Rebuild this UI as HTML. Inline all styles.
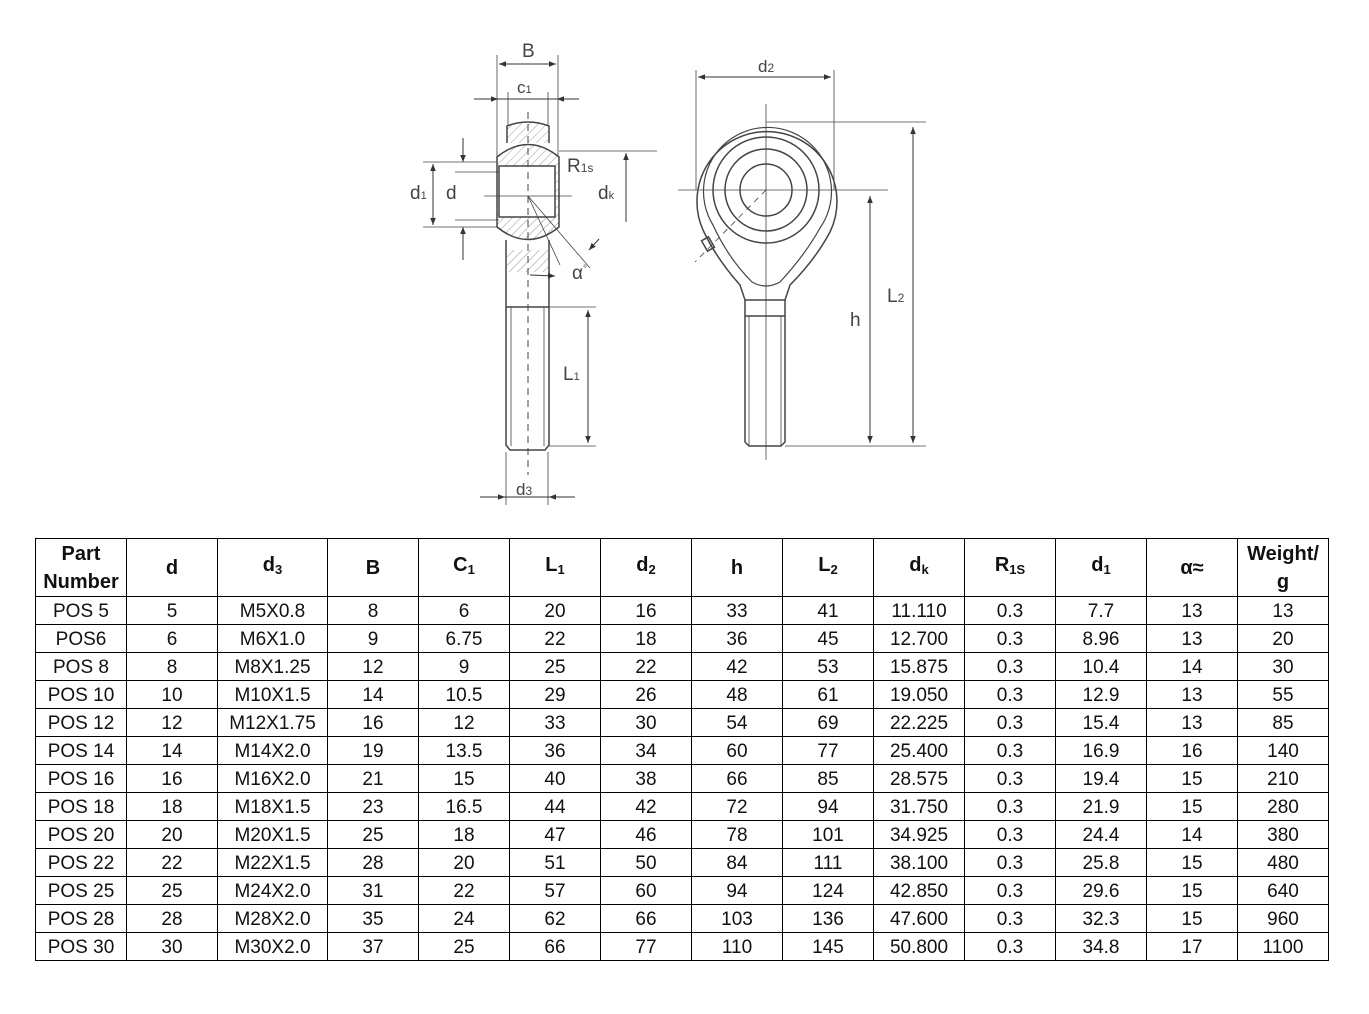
<!DOCTYPE html>
<html><head><meta charset="utf-8"><style>
body{margin:0;background:#fff;width:1369px;height:1014px;position:relative;overflow:hidden;font-family:"Liberation Sans","Noto Sans CJK SC",sans-serif}
svg{position:absolute;left:0;top:0}
table{position:absolute;left:35px;top:538px;border-collapse:collapse;table-layout:fixed}
td{border:1px solid #000;text-align:center;font-size:19px;height:25px;padding:2px 0 0 0;line-height:20px;color:#111}
tr.h td{font-weight:bold;height:57px;line-height:28px;font-size:20px;padding:0}
sub{font-size:13px;vertical-align:-3px}
</style></head><body>
<svg width="1369" height="530" viewBox="0 0 1369 530" font-family="Liberation Sans, sans-serif" fill="none" stroke="#444" stroke-width="1.5">
<defs>
<pattern id="ht" width="6" height="6" patternUnits="userSpaceOnUse" patternTransform="rotate(45)"><line x1="0" y1="0" x2="0" y2="6" stroke="#999" stroke-width="1"/></pattern>
<marker id="a" viewBox="0 0 10 10" refX="10" refY="5" markerWidth="7" markerHeight="7" orient="auto-start-reverse"><path d="M0,1 L10,5 L0,9z" fill="#333" stroke="none"/></marker>
</defs>
<path d="M507,143 L507,126 Q528,118 549,126 L549,143" fill="url(#ht)"/>
<path d="M497,157 Q528,132 559,157 L559,227 Q528,252 497,227 Z" fill="url(#ht)"/>
<rect x="499" y="166" width="56" height="51" fill="#fff"/>
<path d="M506,240 L506,445 L510,450 L545,450 L549,445 L549,240"/>
<rect x="507" y="250" width="41" height="22" fill="url(#ht)" stroke="none"/>
<line x1="506" y1="307" x2="549" y2="307"/>
<line x1="511" y1="307" x2="511" y2="446" stroke-width="0.8"/>
<line x1="544" y1="307" x2="544" y2="446" stroke-width="0.8"/>
<line x1="528" y1="112" x2="528" y2="475" stroke-dasharray="7,5" stroke-width="1"/>
<line x1="484" y1="196" x2="572" y2="196" stroke-width="0.8"/>
<line x1="528" y1="196" x2="560" y2="265" stroke-width="0.8"/>
<line x1="528" y1="196" x2="590" y2="268" stroke-width="0.8"/>
<g stroke-width="0.8">
<line x1="497" y1="55" x2="497" y2="157"/><line x1="558" y1="55" x2="558" y2="157"/>
<line x1="508" y1="92" x2="508" y2="126"/><line x1="548" y1="92" x2="548" y2="126"/>
<line x1="559" y1="151" x2="657" y2="151"/>
<line x1="423" y1="162" x2="497" y2="162"/><line x1="423" y1="227" x2="497" y2="227"/>
<line x1="455" y1="172" x2="499" y2="172"/><line x1="455" y1="220" x2="499" y2="220"/>
<line x1="548" y1="307" x2="596" y2="307"/><line x1="548" y1="446" x2="596" y2="446"/>
<line x1="506" y1="452" x2="506" y2="505"/><line x1="548" y1="452" x2="548" y2="505"/>
</g>
<g stroke="#333" stroke-width="1">
<line x1="499" y1="64" x2="556" y2="64" marker-start="url(#a)" marker-end="url(#a)"/>
<line x1="474" y1="99" x2="498" y2="99" marker-end="url(#a)"/><line x1="579" y1="99" x2="557" y2="99" marker-end="url(#a)"/>
<line x1="498" y1="99" x2="557" y2="99"/>
<line x1="433" y1="164" x2="433" y2="225" marker-start="url(#a)" marker-end="url(#a)"/>
<line x1="463" y1="138" x2="463" y2="162" marker-end="url(#a)"/><line x1="463" y1="260" x2="463" y2="227" marker-end="url(#a)"/>
<line x1="626" y1="222" x2="626" y2="153" marker-end="url(#a)"/>
<line x1="599" y1="239" x2="589" y2="250" marker-end="url(#a)"/>
<line x1="530" y1="275" x2="555" y2="276" marker-end="url(#a)"/>
<line x1="588" y1="310" x2="588" y2="443" marker-start="url(#a)" marker-end="url(#a)"/>
<line x1="480" y1="497" x2="505" y2="497" marker-end="url(#a)"/><line x1="575" y1="497" x2="549" y2="497" marker-end="url(#a)"/>
<line x1="505" y1="497" x2="549" y2="497"/>
</g>
<path d="M703,230 A70,70 0 1 1 830,232 Q815,260 790,285 L785,300 L745,300 L740,285 Q716,258 703,230 Z"/>
<path d="M713,225 A64,64 0 1 1 820,228 Q805,255 780,282 Q766,290 752,282 Q728,258 713,225 Z" stroke-width="1.2"/>
<circle cx="766" cy="190" r="53"/><circle cx="766" cy="190" r="41"/><circle cx="766" cy="190" r="26"/>
<path d="M745,300 L745,442 L749,446 L781,446 L785,442 L785,300"/>
<line x1="745" y1="316" x2="785" y2="316"/>
<line x1="749" y1="316" x2="749" y2="445" stroke-width="0.8"/><line x1="781" y1="316" x2="781" y2="445" stroke-width="0.8"/>
<rect x="704" y="238" width="8" height="12" transform="rotate(-30 708 244)"/>
<line x1="766" y1="104" x2="766" y2="460" stroke-width="0.8"/>
<line x1="678" y1="190" x2="888" y2="190" stroke-width="0.8"/>
<line x1="766" y1="190" x2="695" y2="262" stroke-width="0.8" stroke-dasharray="6,5"/>
<g stroke-width="0.8">
<line x1="696" y1="70" x2="696" y2="190"/><line x1="834" y1="70" x2="834" y2="190"/>
<line x1="766" y1="122" x2="926" y2="122"/><line x1="785" y1="446" x2="926" y2="446"/>
</g>
<g stroke="#333" stroke-width="1">
<line x1="698" y1="77" x2="831" y2="77" marker-start="url(#a)" marker-end="url(#a)"/>
<line x1="870" y1="196" x2="870" y2="443" marker-start="url(#a)" marker-end="url(#a)"/>
<line x1="913" y1="127" x2="913" y2="443" marker-start="url(#a)" marker-end="url(#a)"/>
</g>
<g fill="#444" stroke="none" font-size="19">
<text x="522" y="57">B</text>
<text x="517" y="93" font-size="17">c<tspan font-size="11">1</tspan></text>
<text x="567" y="172">R<tspan font-size="12">1s</tspan></text>
<text x="410" y="199">d<tspan font-size="11">1</tspan></text>
<text x="446" y="199">d</text>
<text x="598" y="199">d<tspan font-size="11">k</tspan></text>
<text x="572" y="279">α<tspan font-size="10" dy="-7">°</tspan></text>
<text x="563" y="380">L<tspan font-size="11">1</tspan></text>
<text x="516" y="495" font-size="17">d<tspan font-size="12">3</tspan></text>
<text x="758" y="72" font-size="17">d<tspan font-size="12">2</tspan></text>
<text x="850" y="326">h</text>
<text x="887" y="302">L<tspan font-size="12">2</tspan></text>
</g>
</svg>
<table>
<colgroup><col style="width:91px"><col style="width:91px"><col style="width:110px"><col style="width:91px"><col style="width:91px"><col style="width:91px"><col style="width:91px"><col style="width:91px"><col style="width:91px"><col style="width:91px"><col style="width:91px"><col style="width:91px"><col style="width:91px"><col style="width:91px"></colgroup>
<tr class="h"><td>Part<br>Number</td><td>d</td><td>d<sub>3</sub></td><td>B</td><td>C<sub>1</sub></td><td>L<sub>1</sub></td><td>d<sub>2</sub></td><td>h</td><td>L<sub>2</sub></td><td>d<sub>k</sub></td><td>R<sub>1S</sub></td><td>d<sub>1</sub></td><td>α≈</td><td>Weight/<br>g</td></tr>
<tr><td>POS 5</td><td>5</td><td>M5X0.8</td><td>8</td><td>6</td><td>20</td><td>16</td><td>33</td><td>41</td><td>11.110</td><td>0.3</td><td>7.7</td><td>13</td><td>13</td></tr>
<tr><td>POS6</td><td>6</td><td>M6X1.0</td><td>9</td><td>6.75</td><td>22</td><td>18</td><td>36</td><td>45</td><td>12.700</td><td>0.3</td><td>8.96</td><td>13</td><td>20</td></tr>
<tr><td>POS 8</td><td>8</td><td>M8X1.25</td><td>12</td><td>9</td><td>25</td><td>22</td><td>42</td><td>53</td><td>15.875</td><td>0.3</td><td>10.4</td><td>14</td><td>30</td></tr>
<tr><td>POS 10</td><td>10</td><td>M10X1.5</td><td>14</td><td>10.5</td><td>29</td><td>26</td><td>48</td><td>61</td><td>19.050</td><td>0.3</td><td>12.9</td><td>13</td><td>55</td></tr>
<tr><td>POS 12</td><td>12</td><td>M12X1.75</td><td>16</td><td>12</td><td>33</td><td>30</td><td>54</td><td>69</td><td>22.225</td><td>0.3</td><td>15.4</td><td>13</td><td>85</td></tr>
<tr><td>POS 14</td><td>14</td><td>M14X2.0</td><td>19</td><td>13.5</td><td>36</td><td>34</td><td>60</td><td>77</td><td>25.400</td><td>0.3</td><td>16.9</td><td>16</td><td>140</td></tr>
<tr><td>POS 16</td><td>16</td><td>M16X2.0</td><td>21</td><td>15</td><td>40</td><td>38</td><td>66</td><td>85</td><td>28.575</td><td>0.3</td><td>19.4</td><td>15</td><td>210</td></tr>
<tr><td>POS 18</td><td>18</td><td>M18X1.5</td><td>23</td><td>16.5</td><td>44</td><td>42</td><td>72</td><td>94</td><td>31.750</td><td>0.3</td><td>21.9</td><td>15</td><td>280</td></tr>
<tr><td>POS 20</td><td>20</td><td>M20X1.5</td><td>25</td><td>18</td><td>47</td><td>46</td><td>78</td><td>101</td><td>34.925</td><td>0.3</td><td>24.4</td><td>14</td><td>380</td></tr>
<tr><td>POS 22</td><td>22</td><td>M22X1.5</td><td>28</td><td>20</td><td>51</td><td>50</td><td>84</td><td>111</td><td>38.100</td><td>0.3</td><td>25.8</td><td>15</td><td>480</td></tr>
<tr><td>POS 25</td><td>25</td><td>M24X2.0</td><td>31</td><td>22</td><td>57</td><td>60</td><td>94</td><td>124</td><td>42.850</td><td>0.3</td><td>29.6</td><td>15</td><td>640</td></tr>
<tr><td>POS 28</td><td>28</td><td>M28X2.0</td><td>35</td><td>24</td><td>62</td><td>66</td><td>103</td><td>136</td><td>47.600</td><td>0.3</td><td>32.3</td><td>15</td><td>960</td></tr>
<tr><td>POS 30</td><td>30</td><td>M30X2.0</td><td>37</td><td>25</td><td>66</td><td>77</td><td>110</td><td>145</td><td>50.800</td><td>0.3</td><td>34.8</td><td>17</td><td>1100</td></tr>
</table>
</body></html>
